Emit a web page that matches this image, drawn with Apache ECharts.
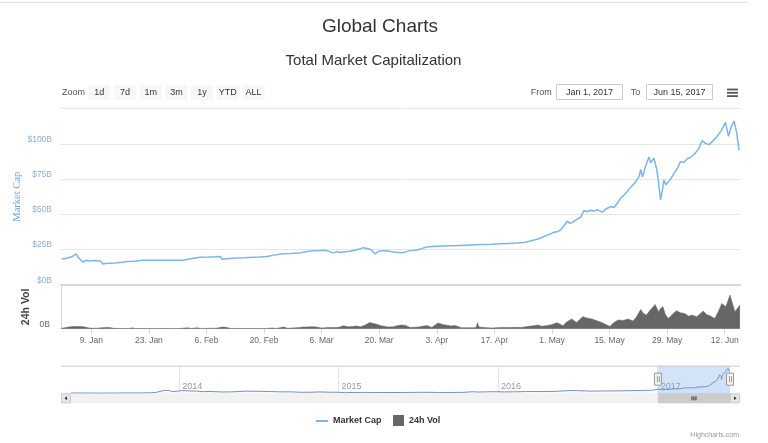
<!DOCTYPE html>
<html><head><meta charset="utf-8">
<script src="https://cdn.jsdelivr.net/npm/echarts@6/dist/echarts.min.js"></script>
<style>html,body{margin:0;padding:0;background:#fff}#c{width:768px;height:443px}</style>
</head><body><div id="c"></div>
<script>
// ---------- DATA ----------
const capDates = ['01-01 19','01-03 00','01-04 06','01-05 07','01-05 18','01-06 08','01-07 00','01-07 18','01-08 12','01-09 12','01-10 12','01-11 06','01-11 20','01-12 12','01-13 12','01-15 00','01-16 12','01-17 17','01-19 12','01-21 14','01-24 00','01-27 00','01-29 12','01-31 07','02-02 12','02-04 10','02-06 12','02-08 00','02-09 07','02-09 19','02-11 12','02-13 12','02-15 12','02-17 07','02-19 00','02-20 17','02-22 12','02-24 14','02-26 12','02-28 17','03-02 12','03-03 22','03-05 12','03-06 19','03-07 12','03-08 19','03-09 18','03-10 12','03-11 05','03-12 22','03-14 12','03-15 12','03-16 02','03-16 18','03-17 19','03-18 12','03-19 00','03-19 16','03-20 05','03-21 12','03-22 12','03-23 12','03-25 05','03-26 12','03-27 12','03-29 05','03-30 12','03-31 12','04-02 17','04-04 12','04-06 12','04-08 12','04-10 12','04-12 12','04-14 12','04-16 12','04-18 12','04-20 12','04-22 12','04-24 05','04-25 12','04-27 10','04-28 12','04-29 19','04-30 12','05-01 12','05-02 12','05-03 02','05-03 20','05-04 17','05-05 10','05-05 22','05-06 18','05-08 00','05-08 19','05-09 12','05-10 12','05-11 06','05-12 00','05-13 05','05-14 00','05-15 07','05-16 02','05-17 00','05-17 17','05-18 12','05-19 06','05-20 02','05-21 06','05-22 05','05-22 14','05-23 00','05-23 18','05-24 14','05-25 00','05-25 10','05-25 19','05-26 12','05-26 22','05-27 10','05-27 22','05-28 05','05-28 16','05-29 00','05-29 18','05-30 17','05-31 12','06-01 07','06-02 00','06-02 22','06-03 18','06-04 22','06-05 18','06-06 12','06-07 06','06-08 05','06-09 06','06-10 05','06-11 06','06-12 05','06-12 22','06-13 12','06-14 07','06-14 14','06-14 22','06-15 12'];
const capValues = [18.3,18.8,19.8,21.9,19.8,17.8,16.0,17.3,16.8,17.1,17.0,16.6,14.7,15.0,15.3,15.4,15.9,16.4,16.6,17.4,17.3,17.4,17.3,17.4,18.6,19.5,19.6,19.8,20.0,18.1,18.6,18.9,19.2,19.5,19.6,20.0,21.0,22.0,22.2,22.6,23.6,24.2,24.3,24.5,24.0,22.6,23.5,22.9,23.3,23.8,24.8,25.6,26.3,25.9,25.2,23.4,21.9,23.3,24.0,24.2,23.7,23.3,22.6,23.3,24.2,24.7,25.8,26.8,27.3,27.5,27.7,27.9,28.1,28.3,28.5,28.7,29.0,29.3,29.6,29.9,30.8,32.3,33.5,35.2,35.8,37.3,37.8,38.9,41.5,45.1,43.6,44.1,45.8,48.0,52.7,51.8,52.9,52.3,53.3,51.5,53.6,55.5,54.8,58.2,61.5,63.5,66.0,69.0,72.5,77.0,81.9,76.5,84.0,90.7,86.5,85.2,90.0,81.7,72.5,60.3,68.0,74.5,71.0,69.8,74.5,79.3,82.5,87.6,86.8,89.5,90.5,93.6,97.0,102.3,100.5,99.5,102.5,105.4,109.8,115.3,105.4,111.4,116.3,115.5,108.0,95.4];

const volDates = ['01-01 15','01-02 12','01-03 12','01-04 12','01-05 12','01-06 12','01-07 12','01-08 12','01-09 12','01-10 12','01-11 12','01-12 12','01-13 12','01-14 12','01-16 12','01-18 12','01-19 00','01-19 12','01-22 12','01-26 12','01-30 12','02-01 12','02-02 06','02-03 17','02-04 12','02-08 12','02-09 12','02-10 06','02-11 00','02-12 00','02-16 12','02-20 12','02-22 00','02-23 00','02-24 18','02-25 18','02-28 12','03-01 12','03-02 12','03-03 17','03-04 18','03-06 00','03-07 12','03-08 12','03-09 12','03-10 12','03-11 06','03-12 12','03-13 12','03-14 12','03-15 12','03-16 12','03-17 17','03-18 12','03-19 05','03-20 12','03-21 12','03-22 05','03-23 12','03-24 12','03-25 12','03-26 12','03-27 12','03-29 12','03-31 14','04-01 19','04-03 07','04-04 12','04-05 17','04-06 12','04-07 10','04-09 00','04-11 00','04-12 12','04-12 22','04-13 05','04-14 12','04-16 07','04-18 19','04-20 12','04-22 12','04-23 14','04-25 12','04-26 12','04-27 14','04-28 12','04-30 00','05-01 00','05-02 05','05-03 17','05-04 12','05-05 19','05-07 00','05-08 12','05-09 12','05-10 17','05-11 18','05-13 02','05-14 00','05-15 02','05-16 00','05-17 02','05-18 06','05-19 12','05-20 17','05-21 12','05-22 14','05-23 06','05-24 00','05-24 18','05-25 12','05-26 02','05-26 22','05-27 10','05-28 00','05-28 14','05-29 07','05-30 06','05-31 07','06-01 06','06-02 07','06-03 06','06-04 00','06-05 05','06-06 00','06-06 19','06-07 14','06-08 10','06-09 14','06-10 12','06-11 07','06-12 07','06-13 07','06-14 12','06-15 17'];
const volValues = [0.05,0.18,0.3,0.38,0.42,0.40,0.3,0.12,0.08,0.1,0.18,0.24,0.2,0.06,0.04,0.05,0.18,0.04,0.03,0.03,0.03,0.18,0.03,0.18,0.04,0.1,0.25,0.31,0.2,0.05,0.04,0.04,0.13,0.05,0.31,0.08,0.2,0.3,0.33,0.37,0.3,0.12,0.2,0.24,0.2,0.32,0.55,0.35,0.4,0.49,0.36,0.64,1.15,0.95,0.86,0.55,0.4,0.31,0.37,0.6,0.68,0.6,0.24,0.3,0.6,0.24,1.04,0.75,0.6,0.5,0.6,0.18,0.18,0.18,1.1,0.31,0.22,0.13,0.24,0.2,0.25,0.24,0.45,0.55,0.68,0.45,0.6,0.75,1.1,0.55,1.2,1.78,1.15,2.2,1.95,1.78,1.5,1.15,0.8,0.42,1.1,1.6,1.5,1.78,1.41,2.1,3.53,2.8,2.5,3.3,3.9,4.45,3.11,3.7,4.03,2.6,1.89,2.6,3.3,2.9,2.8,2.3,2.5,2.2,2.7,3.24,2.6,2.38,1.89,3.2,4.63,4.03,6.17,3.11,4.34];

const navDates = ['2013-04-28','2013-05-15','2013-06-15','2013-07-05','2013-08-01','2013-09-01','2013-10-01','2013-10-25','2013-11-10','2013-11-18','2013-11-30','2013-12-04','2013-12-10','2013-12-18','2013-12-28','2014-01-06','2014-01-25','2014-02-10','2014-02-25','2014-03-15','2014-04-10','2014-05-01','2014-06-03','2014-07-01','2014-08-01','2014-08-20','2014-09-15','2014-10-05','2014-11-01','2014-11-15','2014-12-15','2015-01-01','2015-01-14','2015-02-01','2015-03-01','2015-04-01','2015-05-01','2015-06-01','2015-07-10','2015-08-01','2015-08-20','2015-09-15','2015-10-15','2015-11-04','2015-11-15','2015-12-15','2016-01-01','2016-01-15','2016-02-15','2016-03-15','2016-04-15','2016-05-15','2016-06-17','2016-07-01','2016-08-02','2016-09-01','2016-10-01','2016-11-01','2016-12-01','2016-12-20'];
const navValues = [1.6,1.3,1.2,0.8,1.2,1.6,1.6,2.4,4.2,8.5,13.5,15.0,11.5,7.5,9.5,12.0,10.5,9.5,7.5,8.0,5.8,6.4,9.5,8.9,7.6,6.5,6.3,4.6,4.7,5.9,4.8,4.6,2.8,3.4,3.9,3.5,3.5,3.6,4.4,4.2,3.6,3.7,4.2,7.0,5.6,6.8,7.0,6.0,6.9,7.9,7.7,8.8,12.6,11.7,9.6,10.4,10.7,11.7,12.8,13.5];

const xTickDates = ['01-09','01-23','02-06','02-20','03-06','03-20','04-03','04-17','05-01','05-15','05-29','06-12'];
const xTickLabels = ['9. Jan','23. Jan','6. Feb','20. Feb','6. Mar','20. Mar','3. Apr','17. Apr','1. May','15. May','29. May','12. Jun'];
const yearTicks = ['2014-01-01','2015-01-01','2016-01-01','2017-01-01'];
const yearLabels = ['2014','2015','2016','2017'];
const rangeButtons = ['1d','7d','1m','3m','1y','YTD','ALL'];
const fromText = 'Jan 1, 2017';
const toText = 'Jun 15, 2017';

// ---------- helpers ----------
const P = s => { const [md, h] = s.split(' '); const [m, d] = md.split('-').map(Number); return Date.UTC(2017, m - 1, d, h ? +h : 0); };
const PD = s => { const [y, m, d] = s.split('-').map(Number); return Date.UTC(y, m - 1, d); };
const xMin = Date.UTC(2017, 0, 1, 15), xMax = Date.UTC(2017, 5, 15, 17, 30);
const tickTimes = xTickDates.map(P);
const yearTimes = yearTicks.map(PD);
const capData = capDates.map((d, i) => [P(d), capValues[i]]);
const volData = volDates.map((d, i) => [P(d), volValues[i]]);
const navData = navDates.map((d, i) => [PD(d), navValues[i]]).concat(capData);
const navMin = PD(navDates[0]), navMax = xMax;
const findIdx = (arr, v) => arr.findIndex(t => Math.abs(t - v) < 60000);

const FONT = 'Liberation Sans, Arial, sans-serif';
const chart = echarts.init(document.getElementById('c'), null, { renderer: 'canvas' });

chart.setOption({
  animation: false,
  textStyle: { fontFamily: FONT },
  grid: [
    { left: 61, right: 28, top: 108.7, height: 176 },
    { left: 61, right: 28, top: 285, height: 43.7 },
    { left: 71, right: 38, top: 365.7, height: 27.6 }
  ],
  xAxis: [
    { type: 'value', gridIndex: 0, min: xMin, max: xMax,
      axisLine: { show: true, lineStyle: { color: '#d6d6d6', width: 2 } },
      axisTick: { show: false }, axisLabel: { show: false }, splitLine: { show: false } },
    { type: 'value', gridIndex: 1, min: xMin, max: xMax,
      axisLine: { show: true, lineStyle: { color: '#ccd6eb', width: 1 } },
      axisTick: { show: true, customValues: tickTimes, length: 5, lineStyle: { color: '#ccd6eb' } },
      axisLabel: { show: true, customValues: tickTimes, margin: 7, color: '#666', fontSize: 8.5,
        formatter: v => { const i = findIdx(tickTimes, v); return i >= 0 ? xTickLabels[i] : ''; } },
      splitLine: { show: false } },
    { type: 'value', gridIndex: 2, min: navMin, max: navMax,
      axisLine: { show: false },
      axisTick: { show: false, customValues: yearTimes },
      axisLabel: { show: true, customValues: yearTimes, inside: true, align: 'left', verticalAlign: 'bottom',
        margin: 2, padding: [0, 0, 0, 3], color: '#999', fontSize: 9,
        formatter: v => { const i = findIdx(yearTimes, v); return i >= 0 ? yearLabels[i] : ''; } },
      splitLine: { show: true, lineStyle: { color: '#e6e6e6' } } }
  ],
  yAxis: [
    { type: 'value', gridIndex: 0, min: 0, max: 125, interval: 25,
      axisLine: { show: false }, axisTick: { show: false },
      axisLabel: { formatter: v => '$' + v + 'B', showMaxLabel: false, color: '#8fb0d5', fontSize: 8.5,
        verticalAlign: 'bottom', margin: 9 },
      splitLine: { lineStyle: { color: '#e6e6e6' } },
      name: 'Market Cap', nameLocation: 'middle', nameGap: 38, nameMoveOverlap: false,
      nameTextStyle: { color: '#6aa5e0', fontSize: 10.5, fontFamily: 'Liberation Serif, serif' } },
    { type: 'value', gridIndex: 1, min: 0, max: 8, interval: 8,
      axisLine: { show: true, lineStyle: { color: '#ccd6eb' } }, axisTick: { show: false },
      axisLabel: { formatter: v => v + 'B', showMaxLabel: false, color: '#666', fontSize: 8.5,
        verticalAlign: 'bottom', margin: 11 },
      splitLine: { show: false },
      name: '24h Vol', nameLocation: 'middle', nameGap: 29, nameMoveOverlap: false,
      nameTextStyle: { color: '#444', fontSize: 10.5, fontWeight: 'bold' } },
    { type: 'value', gridIndex: 2, min: 0, max: 122, show: false }
  ],
  legend: [
    { data: [{ name: 'Market Cap', icon: 'rect' }], left: 311, top: 410, itemWidth: 12, itemHeight: 2,
      textStyle: { fontSize: 9, fontWeight: 'bold', color: '#333', lineHeight: 12 } },
    { data: [{ name: '24h Vol', icon: 'rect' }], left: 388, top: 410, itemWidth: 11, itemHeight: 11,
      textStyle: { fontSize: 9, fontWeight: 'bold', color: '#333' } }
  ],
  series: [
    { name: 'Market Cap', type: 'line', xAxisIndex: 0, yAxisIndex: 0, data: capData, symbol: 'none',
      lineStyle: { color: '#7cb5ec', width: 1.5 }, itemStyle: { color: '#7cb5ec' } },
    { name: '24h Vol', type: 'line', xAxisIndex: 1, yAxisIndex: 1, data: volData, symbol: 'none',
      lineStyle: { color: '#666', width: 0.5 }, itemStyle: { color: '#666' },
      areaStyle: { color: '#666', opacity: 1 } },
    { name: 'nav', type: 'line', xAxisIndex: 2, yAxisIndex: 2, data: navData, symbol: 'none', silent: true,
      lineStyle: { color: '#7393be', width: 1 }, areaStyle: { color: '#7393be', opacity: 0.05 },
      markArea: { silent: true, itemStyle: { color: 'rgba(120,170,232,0.32)' },
        data: [[{ xAxis: xMin }, { xAxis: xMax }]] } }
  ]
});

// ---------- decorations (header, navigator handles, scrollbar) ----------
const nx = v => chart.convertToPixel({ xAxisIndex: 2 }, v);
const ny = v => chart.convertToPixel({ yAxisIndex: 2 }, v);
const navL = nx(navMin), navR = nx(navMax), selL = nx(xMin), selR = nx(xMax);
const navTop = ny(122), navBot = ny(0);
const sbH = 10, btnW = 10;
const g = [];
g.push({ type: 'line', shape: { x1: 0, y1: 2.5, x2: 748, y2: 2.5 }, style: { stroke: '#e3e3e3', lineWidth: 1 } });
g.push({ type: 'text', x: 380, y: 27, style: { text: 'Global Charts', fill: '#333', font: '19px ' + FONT, align: 'center', verticalAlign: 'middle' } });
g.push({ type: 'text', x: 373.5, y: 61, style: { text: 'Total Market Capitalization', fill: '#333', font: '15px ' + FONT, align: 'center', verticalAlign: 'middle' } });
g.push({ type: 'text', x: 62, y: 92.5, style: { text: 'Zoom', fill: '#555', font: '9px ' + FONT, verticalAlign: 'middle' } });
rangeButtons.forEach((b, i) => {
  const x = 88.3 + 25.7 * i;
  g.push({ type: 'rect', shape: { x: x, y: 85, width: 22, height: 15 }, style: { fill: '#f7f7f7' } });
  g.push({ type: 'text', x: x + 11, y: 92.5, style: { text: b, fill: '#333', font: '9px ' + FONT, align: 'center', verticalAlign: 'middle' } });
});
g.push({ type: 'text', x: 530.7, y: 92.5, style: { text: 'From', fill: '#555', font: '9px ' + FONT, verticalAlign: 'middle' } });
g.push({ type: 'rect', shape: { x: 556.5, y: 84.5, width: 66, height: 15 }, style: { fill: '#fff', stroke: '#ccc', lineWidth: 1 } });
g.push({ type: 'text', x: 589.5, y: 92.5, style: { text: fromText, fill: '#333', font: '9px ' + FONT, align: 'center', verticalAlign: 'middle' } });
g.push({ type: 'text', x: 630.7, y: 92.5, style: { text: 'To', fill: '#555', font: '9px ' + FONT, verticalAlign: 'middle' } });
g.push({ type: 'rect', shape: { x: 646.5, y: 84.5, width: 66, height: 15 }, style: { fill: '#fff', stroke: '#ccc', lineWidth: 1 } });
g.push({ type: 'text', x: 679.5, y: 92.5, style: { text: toText, fill: '#333', font: '9px ' + FONT, align: 'center', verticalAlign: 'middle' } });
[89.5, 92.8, 96.1].forEach(y => g.push({ type: 'line', shape: { x1: 727, y1: y, x2: 738, y2: y }, style: { stroke: '#555', lineWidth: 1.8 } }));
g.push({ type: 'line', shape: { x1: navL - btnW, y1: navTop + 0.5, x2: navR + btnW, y2: navTop + 0.5 }, style: { stroke: '#cccccc', lineWidth: 1 }, z: 5 });
g.push({ type: 'rect', shape: { x: navL - btnW, y: navBot, width: navR - navL + 2 * btnW, height: sbH }, style: { fill: '#f2f2f2' } });
g.push({ type: 'rect', shape: { x: selL, y: navBot, width: selR - selL, height: sbH }, style: { fill: '#cccccc' } });
[-2, 0, 2].forEach(d => g.push({ type: 'line', shape: { x1: (selL + selR) / 2 + d, y1: navBot + 3, x2: (selL + selR) / 2 + d, y2: navBot + 7 }, style: { stroke: '#333', lineWidth: 1 } }));
g.push({ type: 'rect', shape: { x: navL - btnW + 0.5, y: navBot + 0.5, width: btnW - 1, height: sbH - 1 }, style: { fill: '#e6e6e6', stroke: '#cccccc' } });
g.push({ type: 'rect', shape: { x: navR + 0.5, y: navBot + 0.5, width: btnW - 1, height: sbH - 1 }, style: { fill: '#e6e6e6', stroke: '#cccccc' } });
g.push({ type: 'polygon', shape: { points: [[navL - 4, navBot + 3], [navL - 4, navBot + 7], [navL - 6.5, navBot + 5]] }, style: { fill: '#333' } });
g.push({ type: 'polygon', shape: { points: [[navR + 4, navBot + 3], [navR + 4, navBot + 7], [navR + 6.5, navBot + 5]] }, style: { fill: '#333' } });
[selL, selR].forEach(x => {
  g.push({ type: 'rect', shape: { x: x - 3.5, y: navTop + 7.5, width: 7, height: 12 }, style: { fill: '#f2f2f2', stroke: '#999', lineWidth: 1 }, z: 10 });
  g.push({ type: 'line', shape: { x1: x - 0.5, y1: navTop + 10.5, x2: x - 0.5, y2: navTop + 16.5 }, style: { stroke: '#999', lineWidth: 1 }, z: 11 });
  g.push({ type: 'line', shape: { x1: x + 1.5, y1: navTop + 10.5, x2: x + 1.5, y2: navTop + 16.5 }, style: { stroke: '#999', lineWidth: 1 }, z: 11 });
});
g.push({ type: 'text', x: 739, y: 435, style: { text: 'Highcharts.com', fill: '#999', font: '7px ' + FONT, align: 'right', verticalAlign: 'middle' } });

chart.setOption({ graphic: g });
</script>
</body></html>
